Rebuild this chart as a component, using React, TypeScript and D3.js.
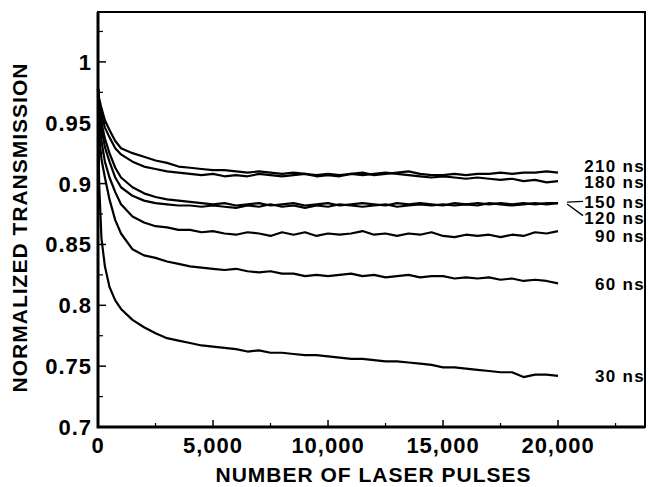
import React, { useEffect, useRef } from 'react'
import * as d3 from 'd3'

// x samples (number of laser pulses)
const pulses = [
  0, 50, 150, 300, 500, 750, 1000, 1500, 2000, 2500, 3000, 3500, 4000, 4500, 5000, 5500, 6000,
  6500, 7000, 7500, 8000, 8500, 9000, 9500, 10000, 10500, 11000, 11500, 12000, 12500, 13000,
  13500, 14000, 14500, 15000, 15500, 16000, 16500, 17000, 17500, 18000, 18500, 19000, 19500, 20000
]

const seriesNames = ['30 ns', '60 ns', '90 ns', '120 ns', '150 ns', '180 ns', '210 ns']

const t30 = [
  0.978, 0.9, 0.855, 0.832, 0.815, 0.804, 0.797, 0.788, 0.782, 0.777, 0.773, 0.771, 0.769, 0.767,
  0.766, 0.765, 0.764, 0.762, 0.763, 0.761, 0.761, 0.76, 0.759, 0.759, 0.758, 0.757, 0.756, 0.756,
  0.755, 0.754, 0.754, 0.753, 0.752, 0.751, 0.749, 0.749, 0.748, 0.747, 0.746, 0.745, 0.745, 0.741,
  0.743, 0.743, 0.742
]
const t60 = [
  0.978, 0.94, 0.92, 0.905, 0.887, 0.87, 0.859, 0.846, 0.841, 0.839, 0.836, 0.834, 0.832, 0.831,
  0.83, 0.829, 0.83, 0.828, 0.827, 0.828, 0.826, 0.826, 0.824, 0.825, 0.824, 0.825, 0.826, 0.824,
  0.825, 0.823, 0.824, 0.825, 0.823, 0.824, 0.824, 0.822, 0.823, 0.822, 0.823, 0.821, 0.822, 0.82,
  0.821, 0.82, 0.818
]
const t90 = [
  0.978, 0.955, 0.935, 0.918, 0.905, 0.893, 0.883, 0.873, 0.868, 0.865, 0.864, 0.862, 0.862, 0.86,
  0.861, 0.859, 0.858, 0.86, 0.859, 0.857, 0.86, 0.858, 0.86, 0.857, 0.859, 0.858, 0.859, 0.861,
  0.858, 0.859, 0.857, 0.859, 0.858, 0.86, 0.857, 0.856, 0.858, 0.857, 0.858, 0.856, 0.858, 0.857,
  0.86, 0.859, 0.861
]
const t120 = [
  0.978, 0.962, 0.945, 0.93, 0.918, 0.905, 0.897, 0.89, 0.886, 0.884, 0.883, 0.882, 0.882, 0.881,
  0.882, 0.881, 0.88, 0.882, 0.881, 0.883, 0.881, 0.882, 0.88, 0.882, 0.881, 0.883, 0.882, 0.881,
  0.882, 0.883, 0.881, 0.882, 0.883, 0.882, 0.883, 0.882, 0.883, 0.882, 0.884, 0.883, 0.882, 0.883,
  0.884, 0.883, 0.884
]
const t150 = [
  0.978, 0.965, 0.95, 0.937, 0.925, 0.913, 0.905, 0.897, 0.892, 0.889, 0.887, 0.886, 0.885, 0.884,
  0.883, 0.884, 0.882, 0.883, 0.884, 0.882, 0.883, 0.884, 0.882, 0.883, 0.884, 0.882, 0.883, 0.884,
  0.883, 0.882, 0.884, 0.883, 0.884, 0.883, 0.882, 0.884, 0.883, 0.884, 0.883, 0.884, 0.883, 0.884,
  0.883, 0.884, 0.884
]
const t180 = [
  0.978, 0.968, 0.957, 0.946, 0.938, 0.929, 0.924, 0.918, 0.914, 0.912, 0.91, 0.909, 0.908, 0.907,
  0.908, 0.906, 0.907, 0.906, 0.908, 0.907, 0.906, 0.907, 0.908, 0.906, 0.907, 0.906, 0.908, 0.907,
  0.908, 0.909, 0.908, 0.907, 0.906, 0.905, 0.906, 0.905, 0.904, 0.905, 0.904, 0.903, 0.904, 0.902,
  0.903, 0.901, 0.902
]
const t210 = [
  0.978, 0.97, 0.962, 0.952, 0.944, 0.935, 0.929, 0.925, 0.922, 0.919, 0.917, 0.914, 0.913, 0.912,
  0.911, 0.911, 0.91, 0.909, 0.91, 0.909, 0.908, 0.909, 0.908, 0.907, 0.908, 0.907, 0.908, 0.909,
  0.907, 0.908, 0.909, 0.91, 0.908, 0.907, 0.907, 0.908, 0.907, 0.908, 0.908, 0.909, 0.908, 0.909,
  0.909, 0.91, 0.909
]

// transmission level where each label sits (labels are spread apart where curves overlap)
const labelLevel = [0.742, 0.8175, 0.857, 0.8712, 0.8845, 0.9013, 0.9145]

const yTickLabels = ['0.7', '0.75', '0.8', '0.85', '0.9', '0.95', '1']
const xTickLabels = ['0', '5,000', '10,000', '15,000', '20,000']

const W = 652
const H = 487
const FONT = '"Liberation Sans", Arial, sans-serif'

const App = () => {
  const svgRef = useRef<SVGSVGElement>(null)

  useEffect(() => {
    const svg = d3.select(svgRef.current)
    svg.selectAll('*').remove()

    const left = 98
    const right = 645
    const top = 12
    const bottom = 427

    const x = d3.scaleLinear().domain([0, 23780]).range([left, right])
    const y = d3.scaleLinear().domain([0.7, 1.041]).range([bottom, top])

    const allSeries = [t30, t60, t90, t120, t150, t180, t210]

    // frame
    svg
      .append('rect')
      .attr('x', left)
      .attr('y', top)
      .attr('width', right - left)
      .attr('height', bottom - top)
      .attr('fill', 'none')
      .attr('stroke', '#000')
      .attr('stroke-width', 2)
    svg
      .append('path')
      .attr('d', `M${left},${top} V${bottom} H${right}`)
      .attr('fill', 'none')
      .attr('stroke', '#000')
      .attr('stroke-width', 3)

    // y ticks (inside)
    const yMajor = d3.range(0, 7).map((i) => 0.7 + i * 0.05)
    const yMinor = d3.range(0, 7).map((i) => 0.725 + i * 0.05)
    svg
      .selectAll('.ymaj')
      .data(yMajor)
      .enter()
      .append('line')
      .attr('x1', left)
      .attr('x2', left + 8)
      .attr('y1', (d) => y(d))
      .attr('y2', (d) => y(d))
      .attr('stroke', '#000')
      .attr('stroke-width', 1.5)
    svg
      .selectAll('.ymin')
      .data(yMinor)
      .enter()
      .append('line')
      .attr('x1', left)
      .attr('x2', left + 5)
      .attr('y1', (d) => y(d))
      .attr('y2', (d) => y(d))
      .attr('stroke', '#000')
      .attr('stroke-width', 1.2)
    svg
      .selectAll('.ylab')
      .data(yMajor)
      .enter()
      .append('text')
      .attr('x', left - 6)
      .attr('y', (d) => y(d))
      .attr('dy', '0.36em')
      .attr('text-anchor', 'end')
      .style('font-family', FONT)
      .style('font-size', '22px')
      .style('font-weight', 'bold')
      .style('letter-spacing', '1px')
      .text((d, i) => yTickLabels[i])

    // x ticks (inside)
    const xMajor = d3.range(0, 5).map((i) => i * 5000)
    const xMinor = d3.range(0, 5).map((i) => 2500 + i * 5000)
    svg
      .selectAll('.xmaj')
      .data(xMajor)
      .enter()
      .append('line')
      .attr('x1', (d) => x(d))
      .attr('x2', (d) => x(d))
      .attr('y1', bottom)
      .attr('y2', bottom - 7)
      .attr('stroke', '#000')
      .attr('stroke-width', 1.5)
    svg
      .selectAll('.xmin')
      .data(xMinor)
      .enter()
      .append('line')
      .attr('x1', (d) => x(d))
      .attr('x2', (d) => x(d))
      .attr('y1', bottom)
      .attr('y2', bottom - 4)
      .attr('stroke', '#000')
      .attr('stroke-width', 1.2)
    svg
      .selectAll('.xlab')
      .data(xMajor)
      .enter()
      .append('text')
      .attr('x', (d) => x(d))
      .attr('y', bottom + 26)
      .attr('text-anchor', 'middle')
      .style('font-family', FONT)
      .style('font-size', '22px')
      .style('font-weight', 'bold')
      .style('letter-spacing', '1px')
      .text((d, i) => xTickLabels[i])

    // axis titles
    svg
      .append('text')
      .attr('x', (left + right) / 2 + 2)
      .attr('y', 482)
      .attr('text-anchor', 'middle')
      .style('font-family', FONT)
      .style('font-size', '21px')
      .style('font-weight', 'bold')
      .style('letter-spacing', '1px')
      .text('NUMBER OF LASER PULSES')
    svg
      .append('text')
      .attr('transform', `translate(27, ${(top + bottom) / 2 + 8}) rotate(-90)`)
      .attr('text-anchor', 'middle')
      .style('font-family', FONT)
      .style('font-size', '21px')
      .style('font-weight', 'bold')
      .style('letter-spacing', '1px')
      .text('NORMALIZED TRANSMISSION')

    // curves
    const line = d3
      .line<number>()
      .x((d, i) => x(pulses[i]))
      .y((d) => y(d))
    svg
      .selectAll('.curve')
      .data(allSeries)
      .enter()
      .append('path')
      .attr('d', (d) => line(d))
      .attr('fill', 'none')
      .attr('stroke', '#000')
      .attr('stroke-width', 2.2)
      .attr('stroke-linejoin', 'round')

    // labels
    svg
      .selectAll('.slab')
      .data(seriesNames)
      .enter()
      .append('text')
      .attr('x', right)
      .attr('y', (d, i) => y(labelLevel[i]))
      .attr('dy', '0.34em')
      .attr('text-anchor', 'end')
      .style('font-family', FONT)
      .style('font-size', '17px')
      .style('font-weight', 'bold')
      .style('letter-spacing', '1.3px')
      .text((d) => d)

    // leader lines for the overlapping 150 / 120 ns curves
    const endX = x(pulses[pulses.length - 1])
    const leaders = [4, 3]
    svg
      .selectAll('.leader')
      .data(leaders)
      .enter()
      .append('line')
      .attr('x1', endX + 9)
      .attr('y1', (d) => y(allSeries[d][allSeries[d].length - 1]) + (d === 3 ? 1 : -1))
      .attr('x2', endX + 25)
      .attr('y2', (d) => y(labelLevel[d]) - (d === 3 ? 3 : 1))
      .attr('stroke', '#000')
      .attr('stroke-width', 1.3)
  }, [])

  return (
    <svg
      ref={svgRef}
      width={W}
      height={H}
      style={{ position: 'absolute', left: 0, top: 0, background: '#fff' }}
    ></svg>
  )
}

export default App
